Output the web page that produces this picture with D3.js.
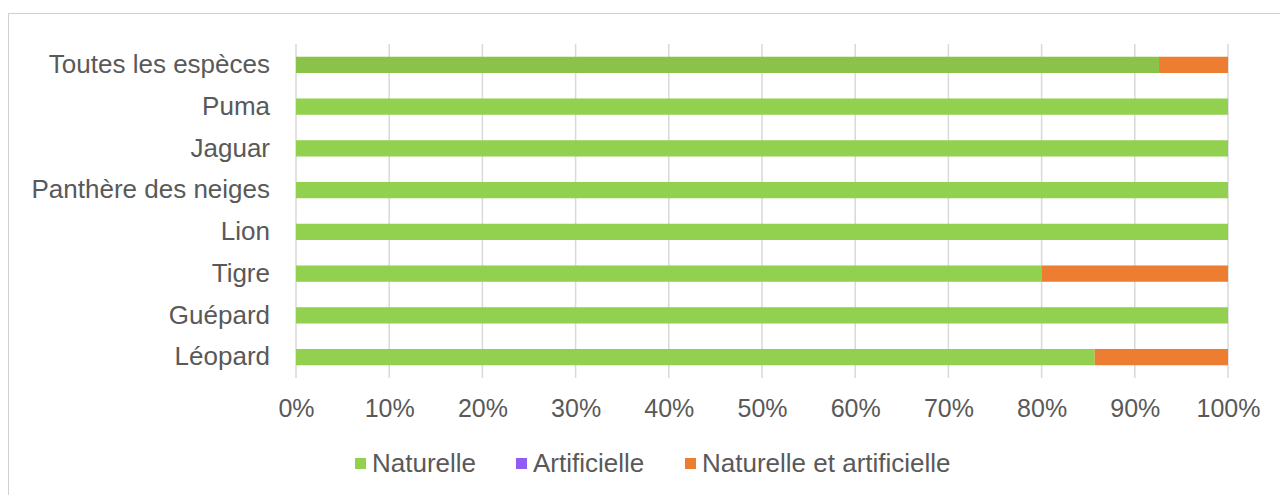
<!DOCTYPE html>
<html lang="fr">
<head>
<meta charset="utf-8">
<title>Chart</title>
<style>
  body { margin: 0; background: #fff; }
  svg { font-family: "Liberation Sans", Arial, sans-serif; }
  .tick text { fill: #595959; }
</style>
<script src="https://d3js.org/d3.v7.min.js"></script>
</head>
<body>
<svg width="1280" height="495"></svg>
<script>
// data (share of each type, per species)
var categories = ["Toutes les espèces", "Puma", "Jaguar", "Panthère des neiges", "Lion", "Tigre", "Guépard", "Léopard"];
var naturelle = [0.926, 1, 1, 1, 1, 0.80, 1, 0.857];
var artificielle = [0, 0, 0, 0, 0, 0, 0, 0];
var mixte = [0.074, 0, 0, 0, 0, 0.20, 0, 0.143];
var seriesNames = ["Naturelle", "Artificielle", "Naturelle et artificielle"];
var seriesColors = ["#92d050", "#8f5cf7", "#ed7d31"];
var tickValues = [0, 0.1, 0.2, 0.3, 0.4, 0.5, 0.6, 0.7, 0.8, 0.9, 1];

var svg = d3.select("svg");

// outer frame
svg.append("rect")
  .attr("x", 8.5).attr("y", 13.5)
  .attr("width", 1290).attr("height", 500)
  .attr("fill", "none").attr("stroke", "#d0d0d0");

var x = d3.scaleLinear().domain([0, 1]).range([296, 1228]);
var y = d3.scaleBand().domain(categories).range([44, 378]).paddingInner(0.61).paddingOuter(0.305);

// gridlines
svg.append("g").selectAll("line")
  .data(tickValues)
  .enter().append("line")
  .attr("x1", function(d) { return x(d); })
  .attr("x2", function(d) { return x(d); })
  .attr("y1", 44).attr("y2", 378)
  .attr("stroke", "#d9d9d9").attr("stroke-width", 1.5);

// stacked bars
var rows = categories.map(function(c, i) {
  return { cat: c, vals: [naturelle[i], artificielle[i], mixte[i]] };
});
var stack = d3.stack().keys([0, 1, 2]).value(function(d, k) { return d.vals[k]; });
var layers = stack(rows);

svg.append("g").selectAll("g")
  .data(layers)
  .enter().append("g")
  .attr("fill", function(d, i) { return seriesColors[i]; })
  .selectAll("rect")
  .data(function(d) { return d; })
  .enter().append("rect")
  .attr("x", function(d) { return x(d[0]); })
  .attr("y", function(d) { return y(d.data.cat); })
  .attr("width", function(d) { return x(d[1]) - x(d[0]); })
  .attr("height", y.bandwidth())
  .attr("fill", function(d) {
    // the "all species" row is drawn slightly darker in the original
    var c = d3.select(this.parentNode).attr("fill");
    return d.data.cat === categories[0] && c === seriesColors[0] ? "#8bc34a" : c;
  });

// x axis
var xAxis = svg.append("g")
  .attr("transform", "translate(0,378)")
  .call(d3.axisBottom(x).tickValues(tickValues).tickFormat(d3.format(".0%")).tickSize(0).tickPadding(21));
xAxis.select(".domain").remove();
xAxis.selectAll("text").attr("font-size", 25).attr("font-family", "Liberation Sans, Arial, sans-serif");

// y axis
var yAxis = svg.append("g")
  .attr("transform", "translate(270,0)")
  .call(d3.axisLeft(y).tickSize(0).tickPadding(0));
yAxis.select(".domain").remove();
yAxis.selectAll("text").attr("font-size", 26).attr("font-family", "Liberation Sans, Arial, sans-serif");

// legend
var legendX = [355, 516, 685];
var legend = svg.append("g").selectAll("g")
  .data(seriesNames)
  .enter().append("g")
  .attr("transform", function(d, i) { return "translate(" + legendX[i] + ",463)"; });
legend.append("rect")
  .attr("x", 0).attr("y", -5).attr("width", 11).attr("height", 11)
  .attr("fill", function(d, i) { return seriesColors[i]; });
legend.append("text")
  .attr("x", 17).attr("dy", "0.35em")
  .attr("font-size", 26).attr("fill", "#595959")
  .text(function(d) { return d; });
</script>
</body>
</html>
